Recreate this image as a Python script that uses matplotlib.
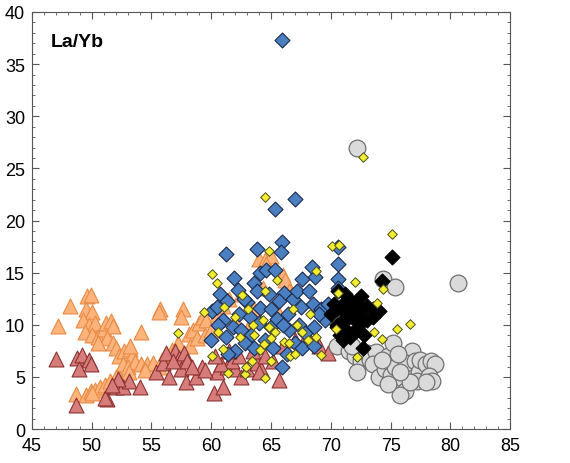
import numpy as np
import matplotlib
matplotlib.use('Agg')
import matplotlib.pyplot as plt
from matplotlib.ticker import MultipleLocator

# SiO2 (x) vs La/Yb (y) for each group
orange_x = [47.2, 48.2, 49.6, 49.9, 49.5, 50.0, 49.3, 49.8, 50.3, 49.4, 50.0, 50.5, 51.0, 51.2, 51.6,
            51.8, 51.3, 51.8, 52.0, 50.5, 52.3, 52.7, 53.2, 53.4, 52.6, 53.0, 53.6, 54.1, 54.1, 53.2,
            54.6, 55.1, 55.6, 55.7, 55.6, 56.3, 56.7, 57.2, 57.6, 57.5, 58.1, 58.5, 59.0, 59.3, 59.6,
            55.9, 56.9, 48.7, 49.5, 49.9, 50.3, 50.7, 51.1, 51.5, 52.0, 52.4, 53.1, 54.5, 50.0, 58.2,
            58.8, 59.5, 60.0, 64.0, 64.5, 65.0, 64.6, 66.0, 66.2, 62.5, 63.6, 65.3, 61.0, 63.0, 62.0,
            61.5, 60.5, 64.3, 66.5]
orange_y = [9.9, 11.8, 12.8, 12.9, 11.5, 11.2, 10.5, 10.0, 10.2, 9.3, 9.0, 8.8, 9.6, 10.2, 10.4,
            9.9, 8.7, 8.3, 7.8, 8.3, 7.0, 7.5, 7.7, 7.0, 6.2, 6.0, 6.4, 6.2, 9.3, 8.0,
            6.2, 6.3, 6.0, 11.5, 11.2, 7.0, 7.6, 8.3, 11.5, 10.8, 9.1, 9.5, 10.2, 10.8, 10.5,
            6.6, 7.2, 3.4, 3.3, 3.7, 3.8, 4.0, 4.2, 4.6, 5.0, 4.8, 5.5, 5.7, 3.5, 8.0,
            8.7, 9.0, 9.5, 16.3, 16.2, 16.6, 15.8, 14.8, 14.3, 13.0, 11.5, 11.8, 11.8, 9.5, 10.5,
            12.5, 11.0, 13.5, 13.2]

red_x = [47.0, 48.8, 49.2, 49.8, 49.9, 48.9, 48.7, 51.3, 51.1, 52.0, 52.4, 52.6, 53.1, 54.0, 52.2,
         51.7, 55.4, 56.0, 56.5, 57.0, 57.3, 57.7, 57.5, 58.0, 57.9, 58.7, 59.2, 56.2, 60.2, 61.0,
         60.5, 61.3, 62.0, 61.7, 60.8, 62.5, 63.0, 63.8, 64.2, 64.5, 65.2, 65.7, 64.0, 62.3, 61.5,
         63.5, 66.0, 67.0, 68.0, 69.0, 69.8, 60.3, 59.5, 58.4, 56.8]
red_y = [6.7, 6.8, 7.1, 6.6, 6.2, 5.8, 2.3, 2.9, 3.0, 4.0, 4.4, 4.0, 4.6, 4.0, 4.8,
         4.2, 5.5, 6.3, 5.0, 7.5, 6.8, 7.3, 5.8, 6.5, 4.5, 5.0, 6.0, 7.3, 3.5, 4.0,
         5.5, 6.0, 5.8, 6.5, 6.2, 5.0, 5.8, 6.3, 5.8, 7.0, 6.5, 4.7, 5.5, 7.0, 7.5,
         7.5, 8.0, 8.5, 9.0, 8.0, 7.3, 7.0, 5.7, 6.0, 6.5]

grey_x = [72.2, 80.6, 74.4, 75.4, 70.5, 71.5, 72.0, 72.5, 73.0, 73.3, 73.8, 72.2, 73.5, 74.0, 74.5,
          74.8, 75.2, 75.0, 75.4, 76.0, 76.5, 76.8, 76.3, 77.0, 77.4, 77.2, 76.2, 75.8, 77.5, 78.0,
          78.4, 78.7, 78.2, 78.5, 78.0, 76.6, 75.8, 74.8, 74.3, 75.6, 71.8]
grey_y = [27.0, 14.0, 14.4, 13.6, 8.0, 7.5, 7.0, 6.5, 7.3, 6.6, 7.4, 5.5, 6.2, 5.0, 5.8,
          7.0, 8.3, 5.2, 6.0, 4.8, 5.8, 7.5, 6.3, 6.5, 5.5, 4.6, 3.7, 3.3, 6.6, 6.2,
          6.5, 6.2, 5.1, 4.6, 4.5, 4.5, 5.5, 4.3, 6.6, 7.2, 8.0]

blue_x = [65.9, 67.0, 65.3, 65.9, 65.8, 61.2, 63.8, 64.1, 64.6, 65.3, 68.4, 68.7, 67.6, 70.6, 70.6,
          70.6, 70.6, 61.9, 63.6, 62.2, 60.7, 61.3, 66.1, 66.8, 67.2, 68.2, 60.1, 61.0, 60.6, 62.3,
          63.2, 64.1, 65.0, 65.7, 66.4, 67.5, 68.5, 69.2, 69.8, 60.0, 61.2, 61.8, 62.5, 63.3, 64.0,
          65.0, 65.5, 66.5, 67.3, 67.8, 68.6, 69.5, 62.0, 62.8, 63.6, 64.5, 65.2, 65.9, 66.3, 67.0,
          67.6, 68.6, 61.4, 63.0, 64.8, 69.0, 60.5, 62.7, 66.0, 63.8]
blue_y = [37.3, 22.1, 21.1, 17.9, 17.0, 16.8, 17.3, 15.0, 15.3, 15.3, 15.5, 14.6, 14.4, 17.5, 15.8,
          14.4, 13.5, 14.5, 14.0, 13.3, 13.0, 12.3, 13.1, 12.5, 13.2, 13.2, 11.3, 10.5, 10.0, 11.0,
          10.8, 11.6, 11.5, 12.3, 11.0, 11.7, 12.0, 11.5, 12.0, 8.5, 8.8, 9.8, 9.5, 9.0, 10.2,
          9.8, 10.6, 9.5, 10.0, 9.2, 9.8, 10.5, 7.5, 8.3, 7.8, 8.5, 7.8, 6.0, 7.2, 8.3,
          7.8, 8.0, 7.2, 12.2, 13.0, 11.0, 11.7, 12.5, 10.0, 13.2]

black_x = [75.1, 74.3, 72.7, 70.0, 70.5, 71.0, 71.5, 72.0, 72.5, 73.0, 73.5, 74.0, 70.5, 71.0, 71.5,
           72.0, 72.5, 73.0, 70.8, 71.3, 71.8, 72.2, 71.0, 71.6, 72.5, 71.8, 70.3, 71.2, 70.6, 72.8,
           73.5, 71.2, 72.3, 70.5]
black_y = [16.5, 14.2, 7.8, 11.0, 11.5, 12.0, 12.5, 12.0, 11.5, 11.8, 11.5, 11.3, 10.0, 10.5, 10.8,
           10.5, 10.2, 10.5, 9.0, 9.5, 9.2, 9.5, 8.5, 8.8, 12.8, 11.5, 12.0, 13.0, 13.2, 9.0,
           10.8, 11.2, 11.0, 9.8]

yellow_x = [72.7, 64.5, 75.1, 70.1, 70.7, 64.8, 60.1, 60.5, 68.8, 72.0, 74.4, 73.9, 70.6, 59.4, 57.2,
            60.6, 61.1, 62.6, 64.5, 65.5, 73.6, 74.3, 75.5, 76.6, 70.4, 69.2, 72.2, 60.1, 61.4, 62.8,
            62.9, 63.4, 64.1, 64.5, 64.4, 65.0, 66.1, 66.6, 66.5, 67.2, 67.6, 68.3, 68.8, 63.5, 62.0,
            61.0, 63.1, 64.3, 65.3, 66.8, 62.4, 64.8, 63.6, 65.0, 67.0, 68.1]
yellow_y = [26.1, 22.3, 18.7, 17.6, 17.7, 17.1, 14.9, 14.0, 15.2, 14.1, 13.4, 12.1, 13.1, 11.2, 9.2,
            9.3, 11.7, 12.9, 13.2, 14.3, 9.3, 8.6, 9.6, 10.1, 9.6, 7.1, 6.9, 7.0, 5.4, 5.3,
            6.0, 6.5, 7.6, 4.9, 8.2, 8.7, 8.4, 7.0, 8.3, 10.0, 9.3, 11.0, 8.8, 10.0, 10.8,
            7.7, 11.5, 10.5, 9.3, 11.5, 8.8, 9.8, 9.0, 6.5, 7.2, 8.5]

plt.rcParams['font.family'] = ['Liberation Sans', 'DejaVu Sans']

fig = plt.figure(figsize=(5.7, 4.64), dpi=100)
ax = fig.add_axes([0.056, 0.073, 0.839, 0.899])

ax.scatter(orange_x, orange_y, marker='^', s=115, c='#fdb47c', edgecolors='#e98a45', linewidths=0.8, zorder=2)
ax.scatter(red_x, red_y, marker='^', s=115, c='#d67d7b', edgecolors='#8c3030', linewidths=0.8, zorder=3)
ax.scatter(grey_x, grey_y, marker='o', s=145, c='#dadada', edgecolors='#707070', linewidths=0.9, zorder=4)
ax.scatter(blue_x, blue_y, marker='D', s=58, c='#4a7fc1', edgecolors='#1c2a4a', linewidths=0.8, zorder=5)
ax.scatter(black_x, black_y, marker='D', s=58, c='black', edgecolors='black', linewidths=0.8, zorder=6)
ax.scatter(yellow_x, yellow_y, marker='D', s=24, c='#f2ee2e', edgecolors='#4a4a20', linewidths=0.7, zorder=7)

ax.set_xlim(45, 85)
ax.set_ylim(0, 40)
ax.xaxis.set_major_locator(MultipleLocator(5))
ax.xaxis.set_minor_locator(MultipleLocator(1))
ax.yaxis.set_major_locator(MultipleLocator(5))
ax.yaxis.set_minor_locator(MultipleLocator(1))
ax.tick_params(which='both', direction='in', top=True, right=True, colors='#555555',
               labelcolor='black', labelsize=13)
ax.tick_params(axis='x', which='major', pad=6)
ax.tick_params(axis='y', which='major', pad=5)
ax.tick_params(which='major', length=5, width=0.8)
ax.tick_params(which='minor', length=2.5, width=0.6)
for sp in ax.spines.values():
    sp.set_color('#555555')
    sp.set_linewidth(0.8)

ax.text(0.04, 0.95, 'La/Yb', transform=ax.transAxes, fontsize=14, fontweight='bold',
        va='top', ha='left')

fig.savefig('out.png', dpi=100)
